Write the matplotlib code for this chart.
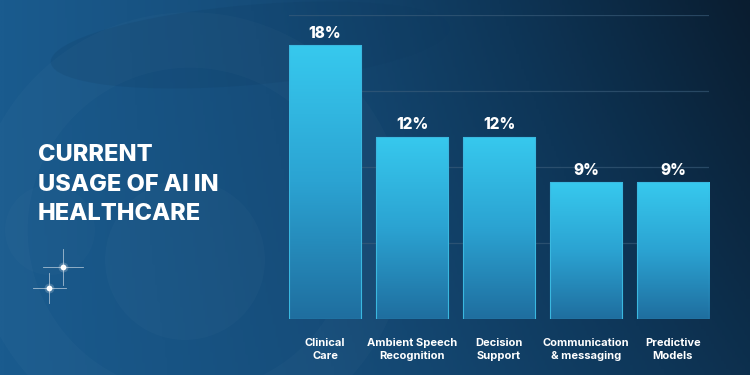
import numpy as np
import matplotlib
matplotlib.use('Agg')
import matplotlib.pyplot as plt
from matplotlib.colors import LinearSegmentedColormap
from matplotlib.patches import Circle, Ellipse

categories = ['Clinical\nCare', 'Ambient Speech\nRecognition', 'Decision\nSupport',
              'Communication\n& messaging', 'Predictive\nModels']
values = [18, 12, 12, 9, 9]
labels = ['18%', '12%', '12%', '9%', '9%']
title = 'CURRENT\nUSAGE OF AI IN\nHEALTHCARE'

WHITE = 'white'
FONT = ['Inter', 'DejaVu Sans']

fig = plt.figure(figsize=(7.5, 3.75), dpi=100)

# ── background gradient ────────────────────────────────────────────────
bg = fig.add_axes([0, 0, 1, 1])
bg.set_xlim(0, 750)
bg.set_ylim(375, 0)
bg.axis('off')
xx, yy = np.meshgrid(np.linspace(0, 1, 300), np.linspace(0, 1, 150))
t = np.clip(0.75 * xx + 0.25 * (1 - yy) * xx, 0, 1)
bg_cmap = LinearSegmentedColormap.from_list('bg', ['#1a5b8e', '#164d7a', '#0e3658', '#0a1d30'])
bg.imshow(t, cmap=bg_cmap, extent=[0, 750, 375, 0], aspect='auto', zorder=0)
# faint swirl shapes
bg.add_patch(Ellipse((250, 45), 400, 80, angle=-5, color='#0d3a60', alpha=0.18, lw=0, zorder=1))
bg.add_patch(Circle((185, 260), 80, color='#ffffff', alpha=0.02, lw=0, zorder=1))
bg.add_patch(Circle((50, 230), 45, color='#ffffff', alpha=0.015, lw=0, zorder=1))
bg.add_patch(Circle((190, 230), 190, fill=False, ec='#ffffff', alpha=0.018, lw=40, zorder=1))

# sparkles
for cx, cy, s in [(63, 267, 18), (49, 288, 15)]:
    bg.plot([cx - s * 1.1, cx + s * 1.1], [cy, cy], color=WHITE, lw=0.6, alpha=0.6, zorder=2)
    bg.plot([cx, cx], [cy - s, cy + s], color=WHITE, lw=0.6, alpha=0.6, zorder=2)
    bg.scatter([cx], [cy], s=10, color=WHITE, zorder=3)
    bg.scatter([cx], [cy], s=50, color=WHITE, alpha=0.2, lw=0, zorder=2)

bg.text(38, 144, title, color=WHITE, fontsize=17, fontweight='heavy', family=FONT,
        va='top', ha='left', linespacing=1.45)

# ── bar chart ──────────────────────────────────────────────────────────
ax = fig.add_axes([289 / 750, 56 / 375, 420 / 750, 304 / 375])
ax.patch.set_alpha(0)
x = np.arange(len(categories))
bars = ax.bar(x, values, width=0.83, color='none', edgecolor='#3ab8e0', linewidth=0.8, zorder=3)

bar_cmap = LinearSegmentedColormap.from_list('bar', ['#37c9ee', '#2ba3d2', '#1f6e9f'])
grad = np.linspace(0, 1, 256).reshape(-1, 1)
for bar in bars:
    im = ax.imshow(grad, cmap=bar_cmap, aspect='auto', zorder=2,
                   extent=[bar.get_x(), bar.get_x() + bar.get_width(), 0, bar.get_height()],
                   origin='upper')
    im.set_clip_path(bar)
ax.set_xlim(-0.415, 4.415)
ax.set_ylim(0, 20)

for v in [5, 10, 15, 20]:
    ax.axhline(v, color='#3d5f7c', lw=0.9, alpha=0.6, zorder=1)

for xi, v, lab in zip(x, values, labels):
    ax.text(xi, v + 0.3, lab, ha='center', va='bottom', color=WHITE,
            fontsize=11, fontweight='heavy', family=FONT)

ax.set_xticks(x)
ax.set_xticklabels(categories, color=WHITE, fontsize=8, fontweight='bold', family=FONT,
                   linespacing=1.3)
ax.tick_params(axis='x', length=0, pad=14)
ax.set_yticks([])
for sp in ax.spines.values():
    sp.set_visible(False)

fig.savefig('out.png', dpi=100, facecolor='#0f3a5f')
